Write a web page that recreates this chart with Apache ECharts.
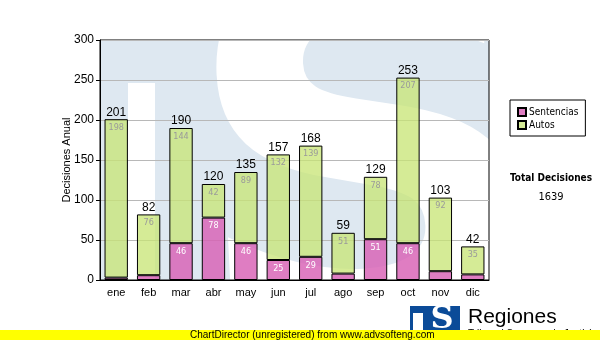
<!DOCTYPE html>
<html>
<head>
<meta charset="utf-8">
<script src="https://cdn.jsdelivr.net/npm/echarts@6/dist/echarts.min.js"></script>
<style>
  html, body { margin: 0; padding: 0; background: #fff; }
  #chart { width: 600px; height: 340px; }
</style>
</head>
<body>
<div id="chart"></div>
<script>
// Decisiones por mes
const meses = ['ene', 'feb', 'mar', 'abr', 'may', 'jun', 'jul', 'ago', 'sep', 'oct', 'nov', 'dic'];
const sentencias = [3, 6, 46, 78, 46, 25, 29, 8, 51, 46, 11, 7];
const autos = [198, 76, 144, 42, 89, 132, 139, 51, 78, 207, 92, 35];
const totales = [201, 82, 190, 120, 135, 157, 168, 59, 129, 253, 103, 42];
const yTicks = [0, 50, 100, 150, 200, 250, 300];

const totalDecisiones = totales.reduce((a, b) => a + b, 0);

// plot area
const P = { left: 100, top: 40, width: 389, height: 240 };
const FONT = 'Liberation Sans, Arial, sans-serif';
const FONT2 = 'DejaVu Sans Condensed, DejaVu Sans, sans-serif';

const chart = echarts.init(document.getElementById('chart'), null, { renderer: 'canvas' });

chart.setOption({
  animation: false,
  grid: {
    left: P.left, top: P.top, width: P.width, height: P.height,
    show: true, borderColor: '#000', borderWidth: 1, backgroundColor: 'transparent', z: 3
  },
  legend: {
    data: ['Sentencias', 'Autos'],
    orient: 'vertical',
    left: 510, top: 100,
    padding: [7, 7, 6, 7],
    borderColor: '#000', borderWidth: 1, borderRadius: 0, backgroundColor: '#fff',
    icon: 'rect',
    itemWidth: 8, itemHeight: 8, itemGap: 3,
    textStyle: { fontFamily: FONT2, fontSize: 10, color: '#000', padding: [0, 0, 0, -2] }
  },
  xAxis: {
    type: 'category',
    data: meses,
    axisLine: { lineStyle: { color: '#000', width: 1 } },
    axisTick: { alignWithLabel: true, length: 4, lineStyle: { color: '#000' } },
    axisLabel: { fontFamily: FONT, fontSize: 11, color: '#000', margin: 7 },
    z: 4
  },
  yAxis: {
    type: 'value',
    min: yTicks[0], max: yTicks[yTicks.length - 1], interval: 50,
    name: 'Decisiones Anual',
    nameLocation: 'middle',
    nameGap: 28,
    nameMoveOverlap: false,
    nameTextStyle: { fontFamily: FONT, fontSize: 11, color: '#000' },
    axisLine: { show: true, lineStyle: { color: '#000', width: 1 } },
    axisTick: { show: true, length: 4, lineStyle: { color: '#000' } },
    axisLabel: { fontFamily: FONT, fontSize: 12, color: '#000', margin: 6 },
    splitLine: { lineStyle: { color: '#b8b8b8', width: 1 } },
    z: 4
  },
  series: [
    {
      name: 'Sentencias',
      type: 'bar',
      stack: 'dec',
      data: sentencias,
      barWidth: '72%',
      itemStyle: { color: 'rgba(216,96,181,0.82)', borderColor: '#000', borderWidth: 1 },
      label: {
        show: true, position: 'insideTop', distance: 4,
        fontFamily: FONT2, fontSize: 9, color: '#fff',
        formatter: p => (p.value >= 20 ? p.value : '')
      },
      z: 5
    },
    {
      name: 'Autos',
      type: 'bar',
      stack: 'dec',
      data: autos,
      barWidth: '72%',
      itemStyle: { color: 'rgba(200,229,117,0.76)', borderColor: '#000', borderWidth: 1 },
      label: {
        show: true, position: 'insideTop', distance: 4,
        fontFamily: FONT2, fontSize: 9, color: '#9a9a9a'
      },
      z: 5
    },
    {
      name: 'Total',
      type: 'bar',
      data: totales,
      barWidth: '72%',
      barGap: '-100%',
      silent: true,
      itemStyle: { color: 'rgba(0,0,0,0)' },
      label: {
        show: true, position: 'top', distance: 1,
        fontFamily: FONT, fontSize: 12, color: '#000'
      },
      z: 6
    }
  ],
  graphic: {
    elements: [
      // plot background with watermark
      { type: 'rect', z: -20, silent: true,
        shape: { x: P.left, y: P.top, width: P.width, height: P.height },
        style: { fill: '#dee8f1' } },
      { type: 'rect', z: -19, silent: true,
        shape: { x: 128, y: 83, width: 27, height: 197 },
        style: { fill: '#fff' } },
      { type: 'text', z: -19, silent: true,
        x: 370, y: 198, rotation: 0.05,
        style: { text: 'S', fill: '#fff', font: 'bold 510px "DejaVu Sans"',
                 align: 'center', verticalAlign: 'middle' } },
      // white cover outside plot
      { type: 'rect', z: -18, silent: true,
        shape: { x: 0, y: 0, width: 600, height: P.top },
        style: { fill: '#fff' } },
      { type: 'rect', z: -18, silent: true,
        shape: { x: 0, y: P.top + P.height, width: 600, height: 60 },
        style: { fill: '#fff' } },
      { type: 'rect', z: -18, silent: true,
        shape: { x: P.left + P.width, y: 0, width: 120, height: 340 },
        style: { fill: '#fff' } },

      // total summary
      { type: 'text', x: 551, y: 178,
        style: { text: 'Total Decisiones', font: 'bold 10px "DejaVu Sans Condensed", "DejaVu Sans"', fill: '#000',
                 align: 'center', verticalAlign: 'middle' } },
      { type: 'text', x: 551, y: 197,
        style: { text: String(totalDecisiones), font: '11px "DejaVu Sans Condensed", "DejaVu Sans"', fill: '#000',
                 align: 'center', verticalAlign: 'middle' } },

      // logo
      { type: 'rect', shape: { x: 410, y: 306, width: 50, height: 26 }, style: { fill: '#0b4b98' } },
      { type: 'rect', shape: { x: 413, y: 313, width: 10, height: 20 }, style: { fill: '#fff' } },
      { type: 'text', x: 442, y: 320,
        style: { text: 'S', fill: '#fff', font: 'bold 32px "DejaVu Serif"',
                 align: 'center', verticalAlign: 'middle' } },
      { type: 'text', x: 468, y: 317,
        style: { text: 'Regiones', fill: '#000', font: '21px "Liberation Sans"',
                 align: 'left', verticalAlign: 'middle' } },
      { type: 'text', x: 468, y: 334,
        style: { text: 'Tribunal Supremo de Justicia', fill: '#000', font: '10px "Liberation Sans"',
                 align: 'left', verticalAlign: 'middle' } },

      // footer strip
      { type: 'rect', z: 50, shape: { x: 0, y: 330, width: 600, height: 10 }, style: { fill: '#ffff00' } },
      { type: 'text', z: 51, x: 190, y: 335,
        style: { text: 'ChartDirector (unregistered) from www.advsofteng.com', fill: '#000',
                 font: '10px "Liberation Sans"', align: 'left', verticalAlign: 'middle' } }
    ]
  }
});
</script>
</body>
</html>
